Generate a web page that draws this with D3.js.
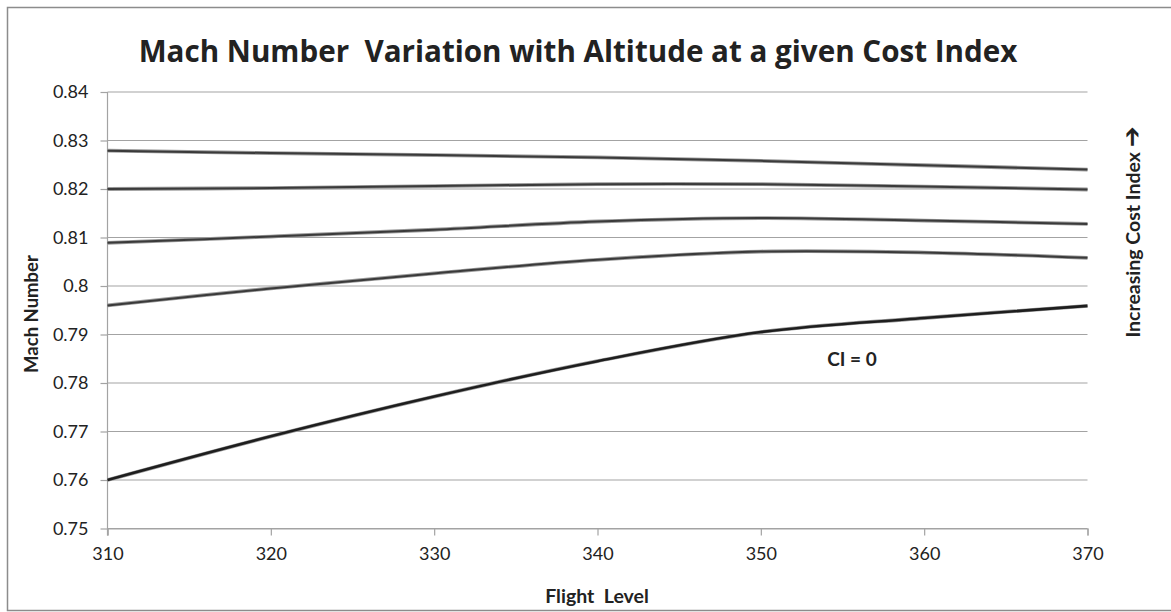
<!DOCTYPE html>
<html>
<head>
<meta charset="utf-8">
<script src="https://d3js.org/d3.v7.min.js"></script>
<style>
  body { margin: 0; background: #fff; }
  text { font-family: Lato, "Open Sans", sans-serif; fill: #222; }
</style>
</head>
<body>
<div id="SVG"></div>
<script>
// Data
var flightLevels = [310, 320, 330, 340, 350, 360, 370];
var ci0 = [0.7600, 0.7690, 0.7772, 0.7845, 0.7905, 0.7934, 0.7959];
var ci1 = [0.7960, 0.7995, 0.8026, 0.8054, 0.8071, 0.8069, 0.8058];
var ci2 = [0.8089, 0.8102, 0.8116, 0.8133, 0.8140, 0.8135, 0.8128];
var ci3 = [0.8200, 0.8202, 0.8206, 0.8210, 0.8210, 0.8205, 0.8199];
var ci4 = [0.8279, 0.8274, 0.8270, 0.8265, 0.8258, 0.8249, 0.8240];
var yTicks = [0.75, 0.76, 0.77, 0.78, 0.79, 0.8, 0.81, 0.82, 0.83, 0.84];
var xTicks = [310, 320, 330, 340, 350, 360, 370];

var seriesList = [ci4, ci3, ci2, ci1, ci0];

// Define SVG area dimensions
var svgWidth = 1171;
var svgHeight = 612;

var chartMargin = { top: 92, right: 83.5, bottom: 83.5, left: 107.5 };
var chartWidth = svgWidth - chartMargin.left - chartMargin.right;
var chartHeight = svgHeight - chartMargin.top - chartMargin.bottom;

var svg = d3.select("#SVG")
  .append("svg")
  .attr("height", svgHeight)
  .attr("width", svgWidth);

// outer frame
svg.append("rect")
  .attr("x", 7.5).attr("y", 7.5)
  .attr("width", 1180).attr("height", 603)
  .attr("fill", "none")
  .attr("stroke", "#8c8c8c")
  .attr("stroke-width", 1.5);

var chartGroup = svg.append("g")
  .attr("transform", "translate(" + chartMargin.left + ", " + chartMargin.top + ")");

var xScale = d3.scaleLinear().domain([310, 370]).range([0, chartWidth]);
var yScale = d3.scaleLinear().domain([0.75, 0.84]).range([chartHeight, 0]);

// horizontal gridlines
chartGroup.selectAll(".grid")
  .data(yTicks)
  .enter()
  .append("line")
  .attr("class", "grid")
  .attr("x1", 0)
  .attr("x2", chartWidth)
  .attr("y1", function (d) { return yScale(d); })
  .attr("y2", function (d) { return yScale(d); })
  .attr("stroke", "#a3a3a3")
  .attr("stroke-width", 1.2);

// axes
var leftAxis = d3.axisLeft(yScale).tickValues(yTicks).tickSize(7).tickPadding(12)
  .tickFormat(function (d) { return d3.format(".2f")(d).replace(/0$/, ""); });
var bottomAxis = d3.axisBottom(xScale).tickValues(xTicks).tickSize(7).tickPadding(12)
  .tickFormat(d3.format("d"));

var yAxisG = chartGroup.append("g").call(leftAxis);
var xAxisG = chartGroup.append("g")
  .attr("transform", "translate(0, " + chartHeight + ")")
  .call(bottomAxis);

[yAxisG, xAxisG].forEach(function (g) {
  g.selectAll("path, line").attr("stroke", "#a3a3a3").attr("stroke-width", 1.2);
  g.selectAll("text")
    .style("font-family", "Lato, 'Open Sans', sans-serif")
    .style("font-size", "18px")
    .attr("fill", "#333");
});
yAxisG.select(".domain").attr("d", "M0," + (chartHeight + 7) + "V0");

// lines
var line = d3.line()
  .x(function (d, i) { return xScale(flightLevels[i]); })
  .y(function (d) { return yScale(d); })
  .curve(d3.curveCatmullRom.alpha(0.5));

chartGroup.selectAll(".shadow")
  .data(seriesList)
  .enter()
  .append("path")
  .attr("class", "shadow")
  .attr("d", line)
  .attr("fill", "none")
  .attr("stroke", "#9a9a9a")
  .attr("stroke-width", 3.8);

chartGroup.selectAll(".series")
  .data(seriesList)
  .enter()
  .append("path")
  .attr("class", "series")
  .attr("d", line)
  .attr("fill", "none")
  .attr("stroke", function (d, i) { return i === 4 ? "#1e1e1e" : "#3a3a3a"; })
  .attr("stroke-width", function (d, i) { return i === 4 ? 2.6 : 2; });

// labels
svg.append("text")
  .attr("x", 578).attr("y", 62)
  .attr("text-anchor", "middle")
  .style("font-family", "'Open Sans', Lato, sans-serif")
  .style("font-size", "29.6px")
  .style("font-weight", "bold")
  .attr("xml:space", "preserve")
  .text("Mach Number  Variation with Altitude at a given Cost Index");

svg.append("text")
  .attr("x", 597).attr("y", 603)
  .attr("text-anchor", "middle")
  .style("font-size", "19.5px")
  .style("font-weight", "bold")
  .attr("xml:space", "preserve")
  .text("Flight  Level");

svg.append("text")
  .attr("transform", "translate(38, 314) rotate(-90)")
  .attr("text-anchor", "middle")
  .style("font-size", "18.5px")
  .style("font-weight", "bold")
  .text("Mach Number");

var ciText = svg.append("text")
  .attr("transform", "translate(1140, 232) rotate(-90)")
  .attr("text-anchor", "middle")
  .style("font-size", "19.5px")
  .style("font-weight", "bold");
ciText.append("tspan").text("Increasing Cost Index ");
ciText.append("tspan")
  .style("font-family", "'DejaVu Sans', sans-serif")
  .style("font-size", "25px")
  .style("font-weight", "bold")
  .text("\u2794");

svg.append("text")
  .attr("x", 852).attr("y", 366)
  .attr("text-anchor", "middle")
  .style("font-size", "19px")
  .style("font-weight", "bold")
  .text("CI = 0");
</script>
</body>
</html>
